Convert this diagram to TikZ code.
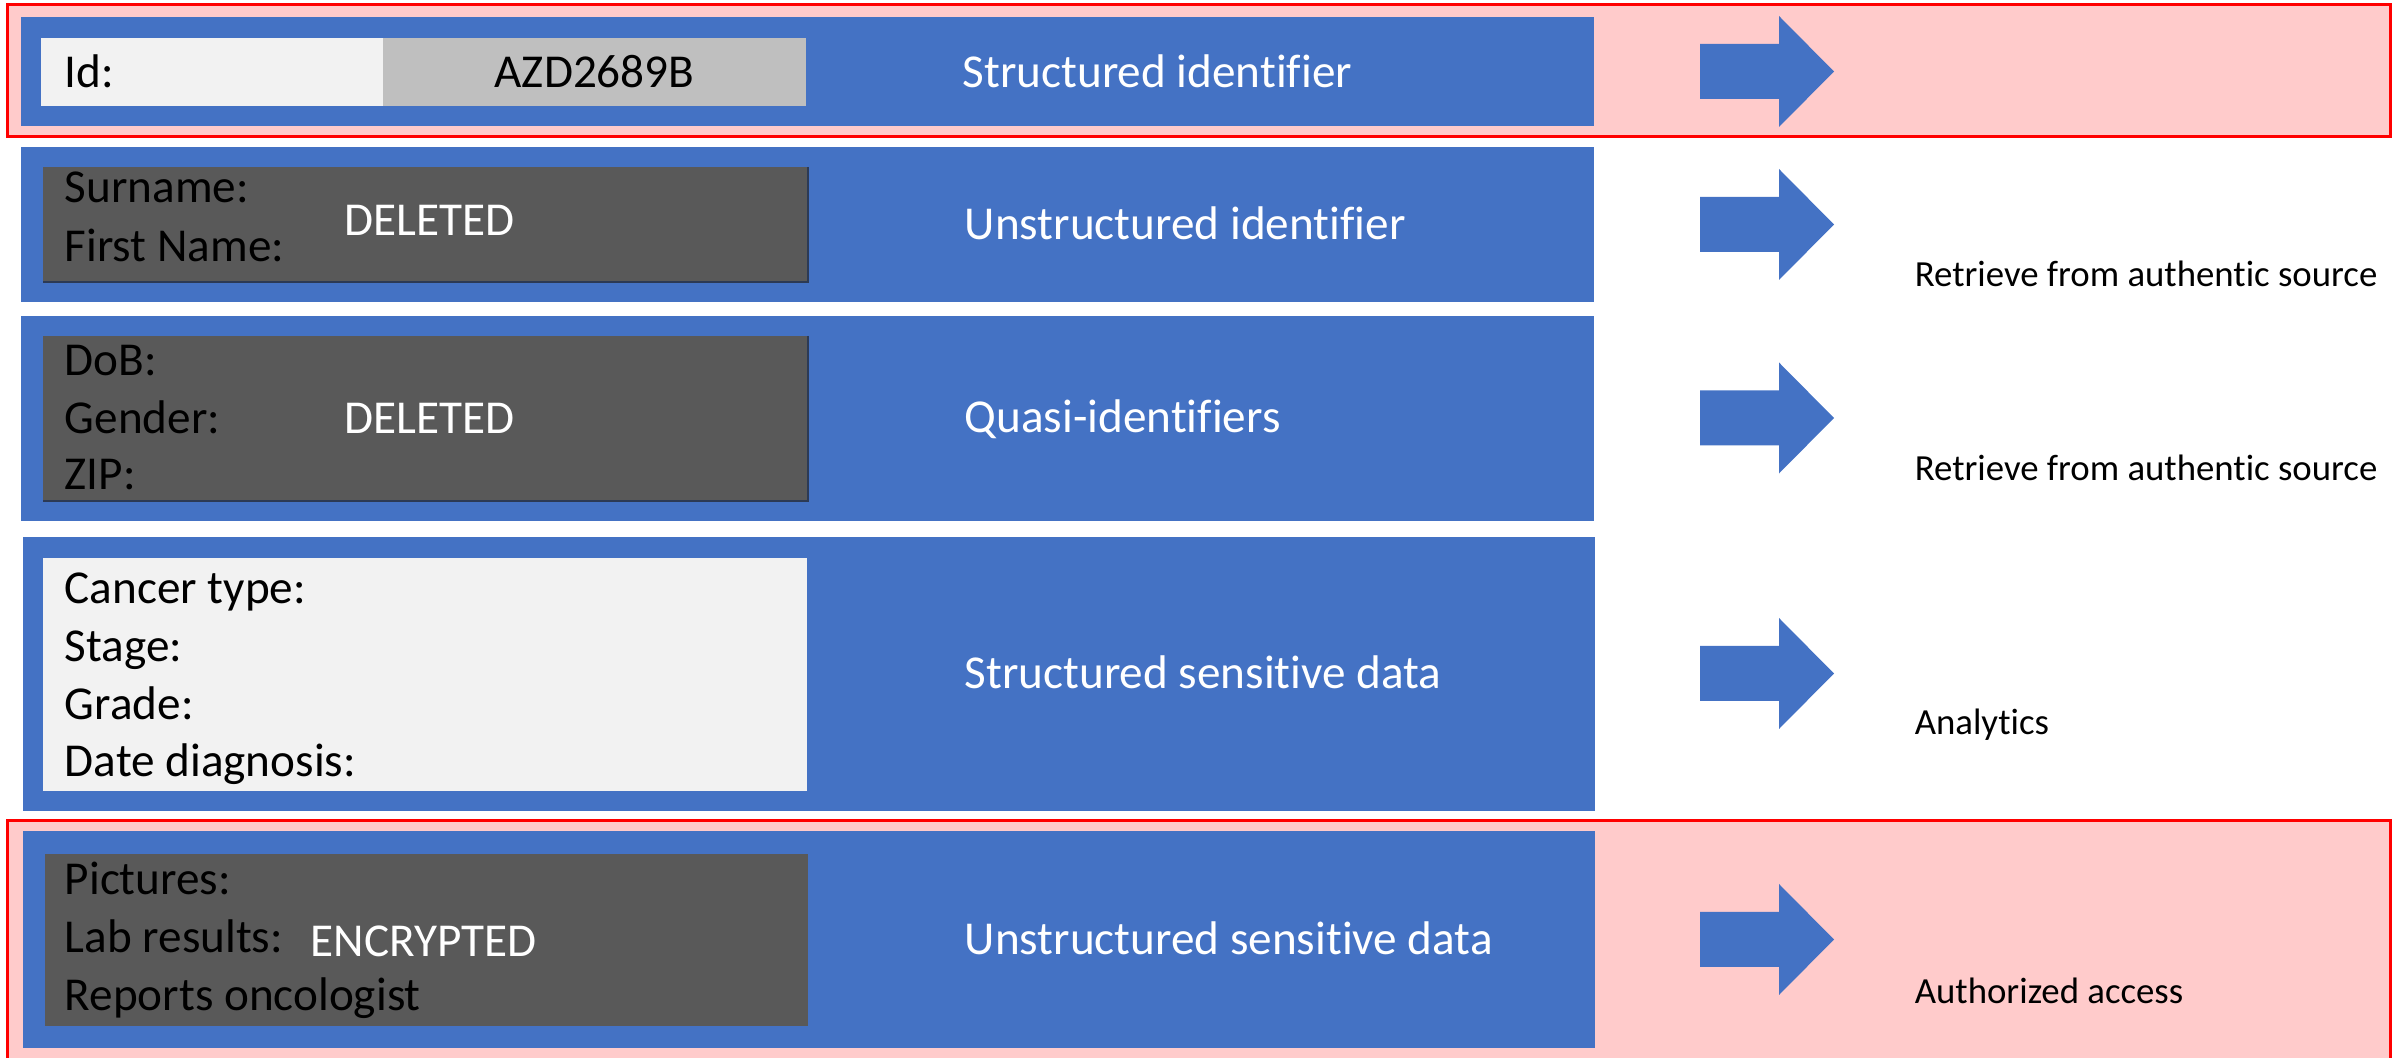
\documentclass[tikz,border=0pt]{standalone}
\usepackage{fontspec}
\setmainfont{Carlito}[Ligatures={CommonOff,ContextualOff}]

\definecolor{boxblue}{HTML}{4472C4}
\definecolor{darkfield}{HTML}{595959}
\definecolor{darkedge}{HTML}{2C3A55}
\definecolor{lightfield}{HTML}{F2F2F2}
\definecolor{midfield}{HTML}{BFBFBF}
\definecolor{alertfill}{HTML}{FFCBCB}
\definecolor{alertline}{HTML}{FF0000}

\begin{document}
\begin{tikzpicture}[
  x=0.25pt, y=-0.25pt,
  sz/.style 2 args={minimum width={#1*0.25pt}, minimum height={#2*0.25pt}},
  panel/.style={rectangle, inner sep=0pt, outer sep=0pt, draw=none},
  bluebox/.style={panel, fill=boxblue},
  darkbox/.style={panel, fill=darkfield},
  lightbox/.style={panel, fill=lightfield},
  greybox/.style={panel, fill=midfield},
  edge/.style={draw=darkedge, line width=0.5pt},
  alertframe/.style={fill=alertfill, draw=alertline, line width=0.75pt},
  field/.style={inner sep=0pt, anchor=base west, text=black,
    font=\fontsize{11.8pt}{14pt}\selectfont},
  masked/.style={field, text=white},
  category/.style={field, text=white},
  action/.style={inner sep=0pt, anchor=base west, text=black,
    font=\fontsize{9.2pt}{11pt}\selectfont},
  blockarrow/.style={fill=boxblue, draw=none}
]
\useasboundingbox (0,0) rectangle (2392,1058);
\clip (0,0) rectangle (2392,1058);

% highlighted rows
\draw[alertframe] (7.5,5) rectangle (2390.5,136.5);
\draw[alertframe] (7.5,821) rectangle (2390.5,1075);

% row 1: structured identifier
\node[bluebox, sz={1573}{109}] (row1) at (807.5,71.5) {};
\node[lightbox, sz={342}{68}] (idkey) at (212,72) {};
\node[greybox, sz={423}{68}] (idval) at (594.5,72) {};
\node[field] (idlbl) at (64,88) {Id:};
\node[field, anchor=base] (idtxt) at (594.5,88) {AZD2689B};
\node[category] (cat1) at (962,88) {Structured identifier};

% row 2: unstructured identifier
\node[bluebox, sz={1573}{155}] (row2) at (807.5,224.5) {};
\node[darkbox, sz={765}{115}] (name) at (425.5,224.5) {};
\draw[edge] (name.north east) -- (name.south east) -- (name.south west);
\node[field] (surname) at (64,203) {Surname:};
\node[field] (firstname) at (64,262) {First Name:};
\node[masked] (del1) at (344,236) {DELETED};
\node[category] (cat2) at (964,240) {Unstructured identifier};

% row 3: quasi-identifiers
\node[bluebox, sz={1573}{205}] (row3) at (807.5,418.5) {};
\node[darkbox, sz={765}{165}] (quasi) at (425.5,418.5) {};
\draw[edge] (quasi.north east) -- (quasi.south east) -- (quasi.south west);
\node[field] (dob) at (64,376) {DoB:};
\node[field] (gender) at (64,434) {Gender:};
\node[field] (zip) at (64,490) {ZIP:};
\node[masked] (del2) at (344,434) {DELETED};
\node[category] (cat3) at (964,433) {Quasi-identifiers};

% row 4: structured sensitive data
\node[bluebox, sz={1572}{274}] (row4) at (809,674) {};
\node[lightbox, sz={764}{233}] (clinical) at (425,674.5) {};
\node[field] (ctype) at (64,604) {Cancer type:};
\node[field] (stage) at (64,662) {Stage:};
\node[field] (grade) at (64,720) {Grade:};
\node[field] (ddiag) at (64,777) {Date diagnosis:};
\node[category] (cat4) at (964,689) {Structured sensitive data};

% row 5: unstructured sensitive data
\node[bluebox, sz={1572}{217}] (row5) at (809,939.5) {};
\node[darkbox, sz={763}{172}] (docs) at (426.5,940) {};
\node[field] (pics) at (64,895) {Pictures:};
\node[field] (lab) at (64,953) {Lab results:};
\node[field] (reports) at (64,1010.5) {Reports oncologist};
\node[masked] (enc) at (310,957) {ENCRYPTED};
\node[category] (cat5) at (964,955) {Unstructured sensitive data};

% block arrows, one per row: shaft 1700-1779, head to the tip at 1834
\foreach \r/\yc in {1/71.5, 2/224.5, 3/418, 4/673.5, 5/939.5}{
  \coordinate (arrowtail\r) at (1700,\yc);
  \coordinate (arrowtip\r) at (1834,\yc);
  \fill[blockarrow]
    (1700,{\yc-27.5}) -- (1779,{\yc-27.5}) -- (1779,{\yc-55.5}) --
    (arrowtip\r) --
    (1779,{\yc+55.5}) -- (1779,{\yc+27.5}) -- (1700,{\yc+27.5}) -- cycle;
}

% what happens to each kind of data
\node[action] (act2) at (1914,287) {Retrieve from authentic source};
\node[action] (act3) at (1914,481) {Retrieve from authentic source};
\node[action] (act4) at (1914,735) {Analytics};
\node[action] (act5) at (1914,1004) {Authorized access};
\end{tikzpicture}
\end{document}
